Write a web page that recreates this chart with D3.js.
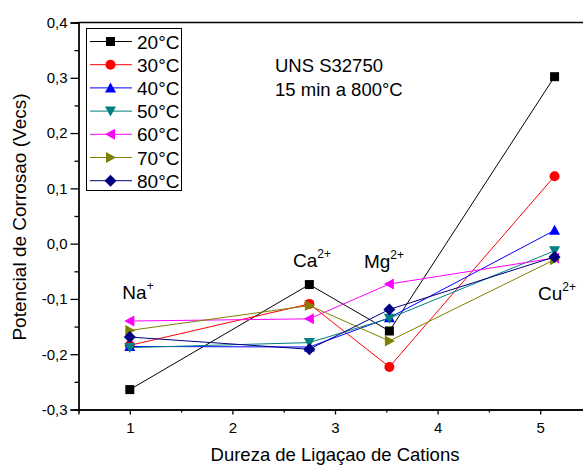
<!DOCTYPE html>
<html><head><meta charset="utf-8">
<script src="https://cdn.jsdelivr.net/npm/d3@7"></script>
<style>body{margin:0;background:#fff;} text{font-family:"Liberation Sans",Arial,sans-serif;}</style>
</head><body><svg id="c" width="583" height="467"></svg>
<script>
const xPositions = [1, 2.75, 3.53, 5.14];
const ions = [["Na","+"],["Ca","2+"],["Mg","2+"],["Cu","2+"]];
const seriesNames = ["20°C","30°C","40°C","50°C","60°C","70°C","80°C"];
const s20 = [-0.264, -0.074, -0.158, 0.302];
const s30 = [-0.184, -0.109, -0.223, 0.122];
const s40 = [-0.186, -0.187, -0.134, 0.024];
const s50 = [-0.188, -0.179, -0.135, -0.013];
const s60 = [-0.140, -0.136, -0.073, -0.026];
const s70 = [-0.157, -0.112, -0.176, -0.029];
const s80 = [-0.169, -0.191, -0.119, -0.024];
const yTicks = [-0.3,-0.2,-0.1,0.0,0.1,0.2,0.3,0.4];
const xTicks = [1,2,3,4,5];
const colors = ["#000000","#ff0000","#0000ff","#008080","#ff00ff","#808000","#000080"];
const symbols = ["square","circle","triUp","triDown","triLeft","triRight","diamond"];
const allSeries = [s20,s30,s40,s50,s60,s70,s80];

const svg = d3.select("#c");
const x = d3.scaleLinear().domain([0.5,5.5]).range([78.5,591.5]);
const y = d3.scaleLinear().domain([-0.3,0.4]).range([409.5,22.5]);

function sym(g, type, cx, cy, color){
  const s = 4.5;
  let p;
  if(type==="square") p=`M${cx-s},${cy-s}h${2*s}v${2*s}h${-2*s}Z`;
  else if(type==="circle"){ g.append("circle").attr("cx",cx).attr("cy",cy).attr("r",5).attr("fill",color); return; }
  else if(type==="triUp") p=`M${cx},${cy-5.5}L${cx+5.5},${cy+4.5}L${cx-5.5},${cy+4.5}Z`;
  else if(type==="triDown") p=`M${cx},${cy+5.5}L${cx+5.5},${cy-4.5}L${cx-5.5},${cy-4.5}Z`;
  else if(type==="triLeft") p=`M${cx-5.5},${cy}L${cx+4.5},${cy-5.5}L${cx+4.5},${cy+5.5}Z`;
  else if(type==="triRight") p=`M${cx+5.5},${cy}L${cx-4.5},${cy-5.5}L${cx-4.5},${cy+5.5}Z`;
  else if(type==="diamond") p=`M${cx},${cy-6}L${cx+6},${cy}L${cx},${cy+6}L${cx-6},${cy}Z`;
  g.append("path").attr("d",p).attr("fill",color);
}

// axes
const fmt = d => d3.format(".1f")(d).replace(".",",").replace("−","-");
const yAxis = d3.axisLeft(y).tickValues(yTicks).tickFormat(fmt).tickSize(8).tickPadding(3);
const yMinor = d3.axisLeft(y).tickValues(d3.range(-0.25,0.4,0.1)).tickFormat("").tickSize(4);
const xAxis = d3.axisBottom(x).tickValues(xTicks).tickFormat(d3.format("d")).tickSize(5).tickPadding(8);
const xMinor = d3.axisBottom(x).tickValues([1.5,2.5,3.5,4.5]).tickFormat("").tickSize(3);

function style(g){ g.selectAll(".domain").attr("stroke","#000").attr("stroke-width",1.3);
  g.selectAll("line").attr("stroke","#000").attr("stroke-width",1.3);
  g.selectAll("text").attr("font-size",15).attr("fill","#000").attr("font-family","Liberation Sans, Arial, sans-serif"); }
style(svg.append("g").attr("transform","translate(78.5,0)").call(yAxis));
style(svg.append("g").attr("transform","translate(78.5,0)").call(yMinor));
style(svg.append("g").attr("transform","translate(0,409.5)").call(xAxis));
style(svg.append("g").attr("transform","translate(0,409.5)").call(xMinor));
svg.append("line").attr("x1",78.5).attr("x2",591.5).attr("y1",22.5).attr("y2",22.5).attr("stroke","#000").attr("stroke-width",1.6);

// series
const line = d3.line().x((d,i)=>x(xPositions[i])).y(d=>y(d));
allSeries.forEach((s,k)=>{
  const g = svg.append("g");
  g.append("path").attr("d",line(s)).attr("fill","none").attr("stroke",colors[k]).attr("stroke-width",1);
  s.forEach((v,i)=>sym(g,symbols[k],x(xPositions[i]),y(v),colors[k]));
});

// ion labels
const ionPos = [[138,299],[312,267],[384,268],[557,300]];
ions.forEach((ion,i)=>{
  const t = svg.append("text").attr("x",ionPos[i][0]).attr("y",ionPos[i][1]).attr("text-anchor","middle").attr("font-size",19);
  t.append("tspan").text(ion[0]);
  t.append("tspan").attr("font-size",12).attr("dy",-9).text(ion[1]);
});

// annotation
svg.append("text").attr("x",275).attr("y",72).attr("font-size",18.5).text("UNS S32750");
svg.append("text").attr("x",275).attr("y",96).attr("font-size",18.5).text("15 min a 800°C");

// legend
svg.append("rect").attr("x",86.5).attr("y",28.5).attr("width",95).attr("height",162).attr("fill","#fff").attr("stroke","#000").attr("stroke-width",1);
seriesNames.forEach((n,k)=>{
  const yy = 41.5 + k*23.2;
  const g = svg.append("g");
  g.append("line").attr("x1",90).attr("x2",132).attr("y1",yy).attr("y2",yy).attr("stroke",colors[k]).attr("stroke-width",1);
  sym(g,symbols[k],110.5,yy,colors[k]);
  g.append("text").attr("x",137).attr("y",yy+7).attr("font-size",19).text(n);
});

// axis titles
svg.append("text").attr("x",335).attr("y",461).attr("text-anchor","middle").attr("font-size",18.5).text("Dureza de Ligaçao de Cations");
svg.append("text").attr("transform","translate(26,217) rotate(-90)").attr("text-anchor","middle").attr("font-size",19).text("Potencial de Corrosao (Vecs)");
</script></body></html>
